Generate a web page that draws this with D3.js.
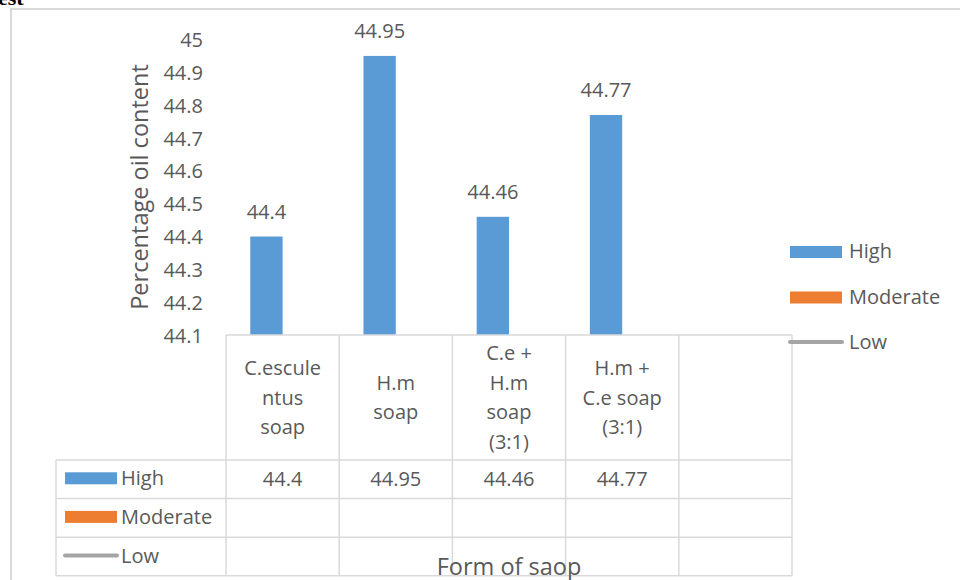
<!DOCTYPE html>
<html>
<head>
<meta charset="utf-8">
<script src="https://cdn.jsdelivr.net/npm/d3@7"></script>
<style>
  html, body { margin: 0; padding: 0; background: #fff; }
  svg { display: block; }
  text { font-family: "Open Sans", Lato, sans-serif; fill: #595959; }
</style>
</head>
<body>
<svg id="chart" width="960" height="580"></svg>
<script>
// Categories (the last column of the data table is left empty)
const categories = ["C.esculentus soap", "H.m soap", "C.e + H.m soap (3:1)", "H.m + C.e soap (3:1)", ""];
// How each category label wraps inside its table cell
const categoryLines = [
  ["C.escule", "ntus", "soap"],
  ["H.m", "soap"],
  ["C.e +", "H.m", "soap", "(3:1)"],
  ["H.m +", "C.e soap", "(3:1)"],
  []
];
const seriesNames = ["High", "Moderate", "Low"];
const highValues = [44.4, 44.95, 44.46, 44.77, null];
const moderateValues = [null, null, null, null, null];
const lowValues = [null, null, null, null, null];
const yTicks = [44.1, 44.2, 44.3, 44.4, 44.5, 44.6, 44.7, 44.8, 44.9, 45];
const yTitle = "Percentage oil content";
const xTitle = "Form of saop";

const colors = { High: "#5b9bd5", Moderate: "#ed7d31", Low: "#a5a5a5" };
const gridColor = "#d9d9d9";
const fontSize = "20px";
const titleSize = "23.5px";

const svg = d3.select("#chart");

// Chart frame, partly running off the page
svg.append("rect")
  .attr("x", 11).attr("y", 9).attr("width", 1000).attr("height", 700)
  .attr("fill", "none").attr("stroke", gridColor).attr("stroke-width", 2);

// Cropped heading text at the very top
svg.append("text")
  .attr("x", -2).attr("y", 5)
  .style("font-family", "'Liberation Serif', serif")
  .style("font-weight", "bold").style("font-size", "22px").style("fill", "#000")
  .text("est");

const plot = { left: 226, right: 792, top: 39.5, bottom: 335 };

const x = d3.scaleBand().domain(categories.map((d, i) => i)).range([plot.left, plot.right]).padding(0);
const xSeries = d3.scaleBand().domain(["High", "Moderate"]).range([0, x.bandwidth()])
  .paddingInner(0).paddingOuter(0.75);
const y = d3.scaleLinear().domain([44.1, 45]).range([plot.bottom, plot.top]);

// Y axis labels (no axis line, no tick marks)
const yAxis = svg.append("g")
  .attr("transform", `translate(${plot.left - 23},0)`)
  .call(d3.axisLeft(y).tickValues(yTicks).tickSize(0).tickPadding(0).tickFormat(d3.format("~g")));
yAxis.select(".domain").remove();
yAxis.selectAll("text")
  .style("font-family", "'Open Sans', Lato, sans-serif")
  .style("font-size", fontSize).attr("fill", "#595959").attr("dy", "0.35em");

// Y axis title
svg.append("text")
  .attr("transform", `translate(140,187) rotate(-90)`)
  .attr("text-anchor", "middle").attr("dy", "0.35em")
  .style("font-size", titleSize)
  .text(yTitle);

// Bars for the High series
const highData = highValues.map((v, i) => ({ i, v })).filter(d => d.v != null);
svg.append("g").selectAll("rect")
  .data(highData)
  .join("rect")
  .attr("x", d => x(d.i) + xSeries("High"))
  .attr("width", xSeries.bandwidth())
  .attr("y", d => y(d.v))
  .attr("height", d => y(44.1) - y(d.v))
  .attr("fill", colors.High);

// Data labels above the bars
svg.append("g").selectAll("text")
  .data(highData)
  .join("text")
  .attr("x", d => x(d.i) + xSeries("High") + xSeries.bandwidth() / 2)
  .attr("y", d => y(d.v) - 25)
  .attr("dy", "0.35em")
  .attr("text-anchor", "middle")
  .style("font-size", fontSize)
  .text(d => d.v);

// Data table under the plot
const rows = { headTop: plot.bottom, headBottom: 460, rowH: 38.6 };
const tableLeft = 56;
const grid = svg.append("g").attr("stroke", gridColor).attr("stroke-width", 1.5);
const rowLines = [0, 1, 2, 3].map(k => rows.headBottom + k * rows.rowH);
grid.append("line").attr("x1", plot.left).attr("x2", plot.right).attr("y1", rows.headTop).attr("y2", rows.headTop);
rowLines.forEach(yy => grid.append("line").attr("x1", tableLeft).attr("x2", plot.right).attr("y1", yy).attr("y2", yy));
grid.append("line").attr("x1", tableLeft).attr("x2", tableLeft).attr("y1", rows.headBottom).attr("y2", rowLines[3]);
categories.forEach((c, i) => {
  grid.append("line").attr("x1", x(i)).attr("x2", x(i)).attr("y1", rows.headTop).attr("y2", rowLines[3]);
});
grid.append("line").attr("x1", plot.right).attr("x2", plot.right).attr("y1", rows.headTop).attr("y2", rowLines[3]);

// Category header cells
const lineH = 29.6;
categoryLines.forEach((lines, i) => {
  const cx = x(i) + x.bandwidth() / 2;
  const cy = (rows.headTop + rows.headBottom) / 2;
  const t = svg.append("text").attr("text-anchor", "middle").style("font-size", fontSize);
  lines.forEach((ln, k) => {
    t.append("tspan").attr("x", cx)
      .attr("y", cy + (k - (lines.length - 1) / 2) * lineH)
      .attr("dy", "0.35em").text(ln);
  });
});

// Series rows: legend key + values
const seriesValues = { High: highValues, Moderate: moderateValues, Low: lowValues };
seriesNames.forEach((s, r) => {
  const cy = rows.headBottom + r * rows.rowH + rows.rowH / 2;
  if (s === "Low") {
    svg.append("line").attr("x1", 65).attr("x2", 117).attr("y1", cy - 1).attr("y2", cy - 1)
      .attr("stroke", colors.Low).attr("stroke-width", 4).attr("stroke-linecap", "round");
  } else {
    svg.append("rect").attr("x", 65).attr("y", cy - 7).attr("width", 52).attr("height", 12).attr("fill", colors[s]);
  }
  svg.append("text").attr("x", 121).attr("y", cy - 1).attr("dy", "0.35em").style("font-size", fontSize).text(s);
  seriesValues[s].forEach((v, i) => {
    if (v == null) return;
    svg.append("text").attr("x", x(i) + x.bandwidth() / 2).attr("y", cy).attr("dy", "0.35em")
      .attr("text-anchor", "middle").style("font-size", fontSize).text(v);
  });
});

// X axis title
svg.append("text")
  .attr("x", 509).attr("y", 575)
  .attr("text-anchor", "middle").style("font-size", titleSize)
  .text(xTitle);

// Legend on the right
const legend = svg.append("g");
seriesNames.forEach((s, k) => {
  const cy = 252 + k * 45.5;
  if (s === "Low") {
    legend.append("line").attr("x1", 790).attr("x2", 842).attr("y1", cy - 1).attr("y2", cy - 1)
      .attr("stroke", colors.Low).attr("stroke-width", 4).attr("stroke-linecap", "round");
  } else {
    legend.append("rect").attr("x", 790).attr("y", cy - 6).attr("width", 52).attr("height", 12).attr("fill", colors[s]);
  }
  legend.append("text").attr("x", 849).attr("y", cy - 1).attr("dy", "0.35em").style("font-size", fontSize).text(s);
});
</script>
</body>
</html>
